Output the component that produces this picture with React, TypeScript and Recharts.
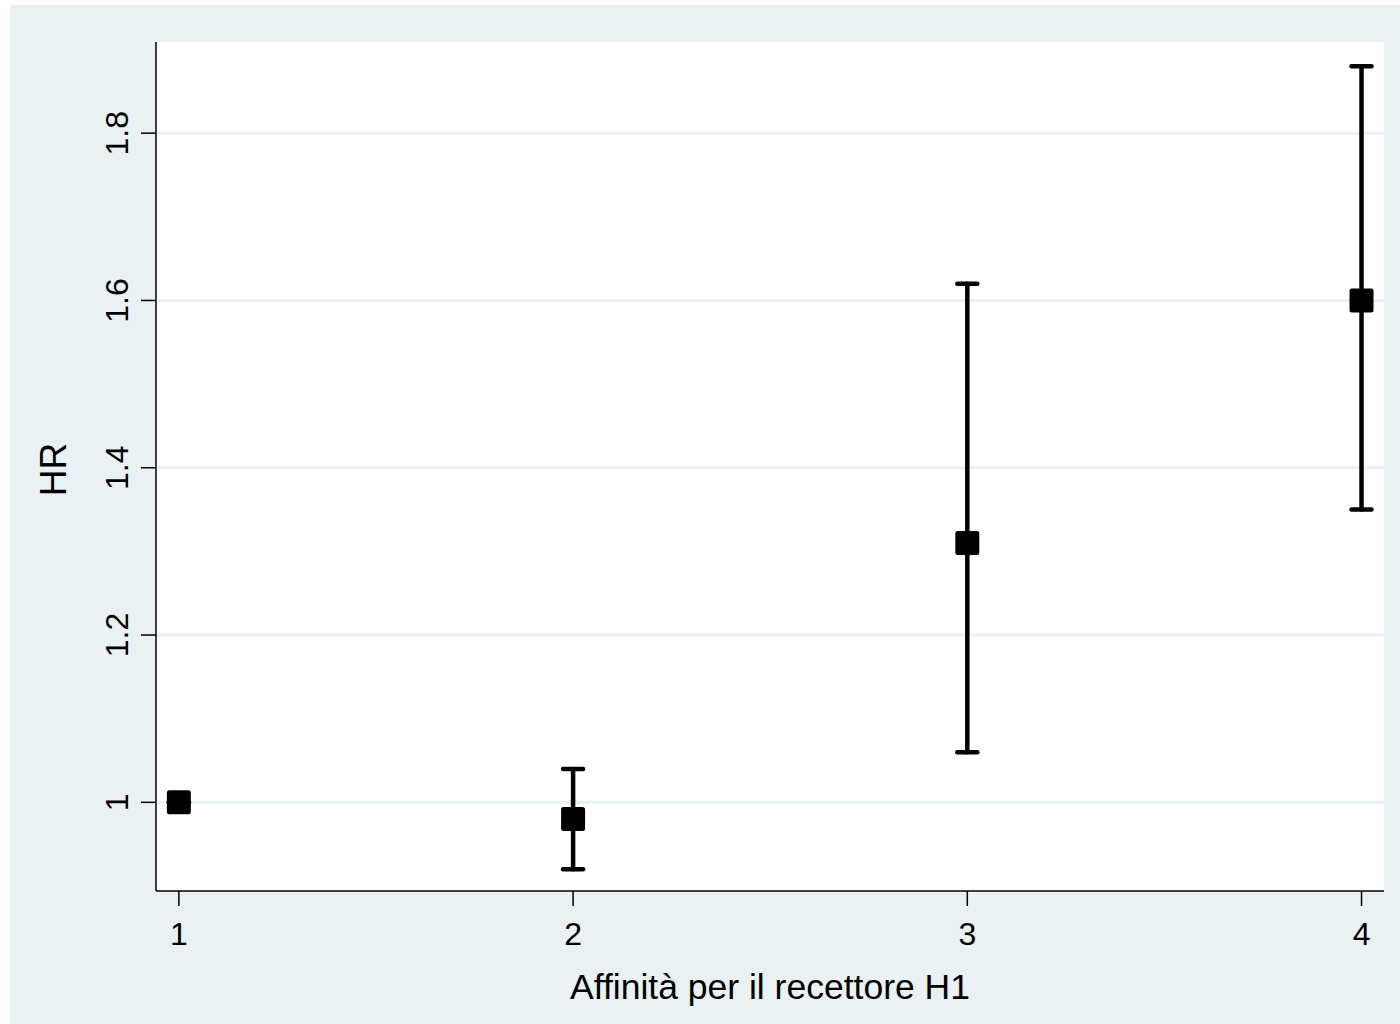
import React from 'react';
import { ScatterChart, Scatter, XAxis, YAxis, CartesianGrid, ErrorBar } from 'recharts';

// Affinità per il recettore H1 (categorie 1-4)
const affinity = [1, 2, 3, 4];
// hazard ratio e intervallo di confidenza
const hr = [1.0, 0.98, 1.31, 1.6];
const hrLow = [1.0, 0.92, 1.06, 1.35];
const hrHigh = [1.0, 1.04, 1.62, 1.88];

const xTicks = [1, 2, 3, 4];
const yTicks = [1, 1.2, 1.4, 1.6, 1.8];

const data = affinity.map((a, i) => ({
  affinity: a,
  hr: hr[i],
  ci: [hr[i] - hrLow[i], hrHigh[i] - hr[i]],
}));

const BG = '#e9f1f3';
const FONT = '"Liberation Sans", Arial, sans-serif';

const SquareMarker = (props: any) => {
  const { cx, cy } = props;
  return <rect x={cx - 12} y={cy - 12} width={24} height={24} rx={2.5} fill="#000" />;
};

const YTick = (props: any) => {
  const { x, y, payload } = props;
  const bx = x - 13;
  return (
    <text
      x={bx}
      y={y}
      transform={`rotate(-90, ${bx}, ${y})`}
      textAnchor="middle"
      fontSize={32}
      fontFamily={FONT}
      fill="#000"
    >
      {payload.value}
    </text>
  );
};

const XTick = (props: any) => {
  const { x, y, payload } = props;
  return (
    <text x={x} y={y + 39} textAnchor="middle" fontSize={32} fontFamily={FONT} fill="#000">
      {payload.value}
    </text>
  );
};

const YLabel = (props: any) => {
  const { viewBox } = props;
  const x = viewBox.x + 56;
  const y = viewBox.y + viewBox.height / 2 + 3;
  return (
    <text
      x={x}
      y={y}
      transform={`rotate(-90, ${x}, ${y})`}
      textAnchor="middle"
      fontSize={37}
      fontFamily={FONT}
      fill="#000"
    >
      HR
    </text>
  );
};

export default function App() {
  return (
    <div style={{ position: 'absolute', left: 10, top: 5, width: 1390, height: 1019, background: BG }}>
      <ScatterChart width={1390} height={1019} margin={{ top: 37, right: 16, left: 0, bottom: 0 }}>
        <CartesianGrid
          vertical={false}
          fill="#ffffff"
          stroke={BG}
          strokeWidth={3}
          horizontalValues={yTicks}
        />
        <XAxis
          type="number"
          dataKey="affinity"
          domain={[0.942, 4.057]}
          ticks={xTicks}
          allowDataOverflow
          height={133}
          tickSize={15}
          tickMargin={0}
          axisLine={{ stroke: '#000', strokeWidth: 1.5 }}
          tickLine={{ stroke: '#000', strokeWidth: 1.5 }}
          tick={<XTick />}
          label={{
            value: 'Affinità per il recettore H1',
            position: 'insideBottom',
            offset: 25,
            fontSize: 35.5,
            fontFamily: FONT,
            fill: '#000',
          }}
        />
        <YAxis
          type="number"
          dataKey="hr"
          domain={[0.894, 1.909]}
          ticks={yTicks}
          allowDataOverflow
          width={146}
          tickSize={15}
          tickMargin={0}
          axisLine={{ stroke: '#000', strokeWidth: 1.5 }}
          tickLine={{ stroke: '#000', strokeWidth: 1.5 }}
          tick={<YTick />}
          label={<YLabel />}
        />
        <Scatter data={data} shape={<SquareMarker />} isAnimationActive={false}>
          <ErrorBar
            dataKey="ci"
            direction="y"
            width={10}
            stroke="#000"
            strokeWidth={4.5}
            strokeLinecap="round"
            isAnimationActive={false}
          />
        </Scatter>
      </ScatterChart>
    </div>
  );
}
